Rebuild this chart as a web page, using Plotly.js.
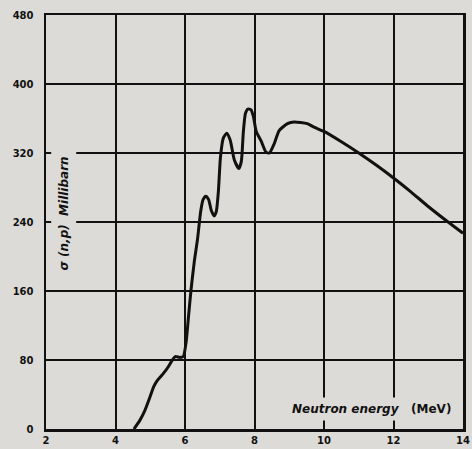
<!DOCTYPE html>
<html>
<head>
<meta charset="utf-8">
<script src="https://cdn.plot.ly/plotly-3.0.1.min.js"></script>
<style>
html,body{margin:0;padding:0;background:#dddbd7;}
#chart{width:472px;height:449px;}
</style>
</head>
<body>
<div id="chart"></div>
<script>
// Neutron energy (MeV)
const energy = [4.53, 4.7, 4.85, 5.0, 5.1, 5.2, 5.35, 5.5, 5.62, 5.72, 5.85, 5.95, 6.03, 6.1, 6.17, 6.27, 6.36, 6.45, 6.52, 6.6, 6.68, 6.76, 6.84, 6.9, 6.96, 7.02, 7.1, 7.2, 7.3, 7.42, 7.55, 7.62, 7.68, 7.74, 7.81, 7.9, 7.97, 8.05, 8.19, 8.33, 8.43, 8.57, 8.71, 8.95, 9.14, 9.52, 9.71, 10.0, 10.5, 11.0, 11.5, 12.0, 12.5, 13.0, 13.57, 14.0];
// sigma (n,p) in millibarn
const sigma = [0, 10, 22, 38, 49, 56, 63, 71, 79, 84, 83, 84, 100, 130, 160, 195, 220, 252, 266, 270, 266, 253, 247, 252, 275, 315, 337, 343, 335, 312, 302, 310, 345, 366, 371, 370, 362, 345, 334, 321, 320, 331, 346, 354, 356, 354, 350, 345, 333, 320, 306, 291, 275, 258, 240, 227];
const xTicks = [2, 4, 6, 8, 10, 12, 14];
const yTicks = [0, 80, 160, 240, 320, 400, 480];
const xTitle = "<i>Neutron energy</i>   (MeV)";
const yTitle = "<i>σ (n,p)  Millibarn</i>";

const bg = "#dddbd7";
const tickFont = {family: "DejaVu Sans", size: 10, color: "#111", weight: "bold"};

const trace = {
  x: energy, y: sigma, type: "scatter", mode: "lines",
  line: {color: "#111", width: 3, shape: "spline", smoothing: 0.6},
  hoverinfo: "skip"
};

const layout = {
  width: 472, height: 449,
  margin: {l: 46, r: 9, t: 15, b: 20},
  paper_bgcolor: bg, plot_bgcolor: bg,
  showlegend: false,
  xaxis: {
    range: [2, 14], tickvals: xTicks, ticktext: xTicks.map(String),
    showgrid: true, gridcolor: "#111", gridwidth: 2,
    showline: true, linecolor: "#111", linewidth: 2.5, mirror: true,
    zeroline: false, ticks: "", tickfont: tickFont
  },
  yaxis: {
    range: [0, 480], tickvals: yTicks, ticktext: yTicks.map(String),
    showgrid: true, gridcolor: "#111", gridwidth: 2,
    showline: true, linecolor: "#111", linewidth: 2.5, mirror: true,
    zeroline: false, ticks: "", ticklabelstandoff: 8, tickfont: tickFont
  },
  annotations: [
    {x: 11.37, y: 23, xref: "x", yref: "y", text: xTitle, showarrow: false,
     font: {family: "DejaVu Sans", size: 12, color: "#111", weight: "bold"},
     bgcolor: bg, borderpad: 4},
    {x: 2.52, y: 250, xref: "x", yref: "y", text: yTitle, showarrow: false, textangle: -90,
     font: {family: "DejaVu Sans", size: 12, color: "#111", weight: "bold"},
     bgcolor: bg, borderpad: 5}
  ]
};

Plotly.newPlot("chart", [trace], layout, {displayModeBar: false, staticPlot: true});
</script>
</body>
</html>
